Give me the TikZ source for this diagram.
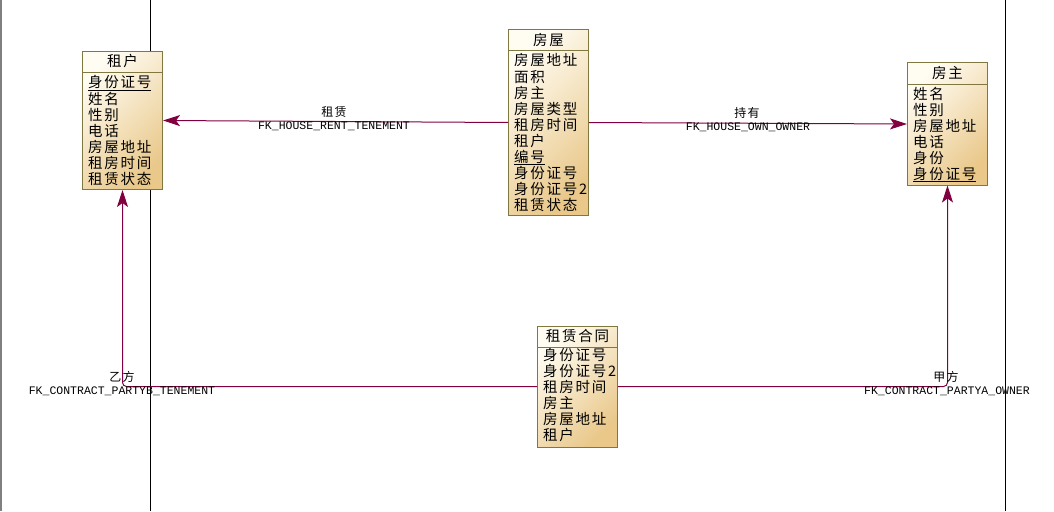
\documentclass[tikz,border=0pt]{standalone}
\usepackage{fontspec}
\setmainfont{Noto Sans CJK SC}[LetterSpace=12]
\setmonofont{Liberation Mono}
\usetikzlibrary{calc,arrows.meta,positioning}
\definecolor{fkred}{RGB}{128,0,64}
\definecolor{entborder}{RGB}{128,120,64}
\definecolor{entlight}{RGB}{255,252,242}
\definecolor{entdark}{RGB}{233,200,138}
\tikzstyle{entity} = [draw=entborder, line width=1pt, minimum width=80pt, inner sep=0pt, top color=entlight, bottom color=entdark, shading angle=45]
\tikzstyle{enttitle} = [font=\fontsize{14.5}{16}\selectfont, inner sep=0pt]
\tikzstyle{entattr} = [font=\fontsize{14.5}{16}\selectfont, inner sep=0pt, anchor=base west]
\tikzstyle{sepline} = [draw=entborder, line width=1pt]
\tikzstyle{fk} = [draw=fkred, line width=1pt, rounded corners=4pt, -{Stealth[length=17pt,width=11pt,inset=4pt]}]
\tikzstyle{fklabel} = [font=\fontsize{12}{12}\selectfont, inner sep=0pt]
\tikzstyle{fkname} = [font=\ttfamily\fontsize{11.5}{12}\selectfont, inner sep=0pt]

\begin{document}
\begin{tikzpicture}[x=1pt,y=-1pt]

    \useasboundingbox (0,0) rectangle (1054,511);

    % page borders
    \draw[gray, line width=2pt] (1,0) -- (1,511);
    \draw[line width=1pt] (150.5,0) -- (150.5,511);
    \draw[line width=1pt] (1005.5,0) -- (1005.5,511);

    % tenant
    \node[entity, minimum height=138pt] (tenant) at (122.5,120.5) {};
    \node[enttitle] (tenant-t) at (122.5,61) {租户};
    \draw[sepline] (82.5,72.5) -- (162.5,72.5);
    \foreach \txt [count=\i from 0] in {\underline{身份证号},姓名,性别,电话,房屋地址,租房时间,租赁状态}
        \node[entattr] at (88,88+16*\i) {\txt};

    % house
    \node[entity, minimum height=185pt] (house) at (548.5,122.5) {};
    \node[enttitle] (house-t) at (548.5,40) {房屋};
    \draw[sepline] (508.5,50.5) -- (588.5,50.5);
    \foreach \txt [count=\i from 0] in {房屋地址,面积,房主,房屋类型,租房时间,租户,\underline{编号},身份证号,身份证号2,租赁状态}
        \node[entattr] at (514,66+16*\i) {\txt};

    % owner
    \node[entity, minimum height=122pt] (owner) at (947.5,124) {};
    \node[enttitle] (owner-t) at (947.5,73) {房主};
    \draw[sepline] (907.5,84.5) -- (987.5,84.5);
    \foreach \txt [count=\i from 0] in {姓名,性别,房屋地址,电话,身份,\underline{身份证号}}
        \node[entattr] at (913,99+16*\i) {\txt};

    % contract
    \node[entity, minimum height=121pt] (contract) at (577.5,386.5) {};
    \node[enttitle] (contract-t) at (577.5,336) {租赁合同};
    \draw[sepline] (537.5,347.5) -- (617.5,347.5);
    \foreach \txt [count=\i from 0] in {身份证号,身份证号2,租房时间,房主,房屋地址,租户}
        \node[entattr] at (543,360+16*\i) {\txt};

    % references
    \draw[fk] (house.west) -- (tenant.east);
    \draw[fk] (house.east) -- (owner.west);
    \draw[fk] (contract.west) -| (tenant.south);
    \draw[fk] (contract.east) -| (owner.south);

    \node[fklabel] (rent) at (334,112) {租赁};
    \node[fkname] (rent-n) at (334,126) {FK\_HOUSE\_RENT\_TENEMENT};
    \node[fklabel] (own) at (747,113) {持有};
    \node[fkname] (own-n) at (748,127) {FK\_HOUSE\_OWN\_OWNER};
    \node[fklabel] (partyb) at (122,377) {乙方};
    \node[fkname] (partyb-n) at (122,391) {FK\_CONTRACT\_PARTYB\_TENEMENT};
    \node[fklabel] (partya) at (946,377) {甲方};
    \node[fkname] (partya-n) at (947,391) {FK\_CONTRACT\_PARTYA\_OWNER};

\end{tikzpicture}
\end{document}
